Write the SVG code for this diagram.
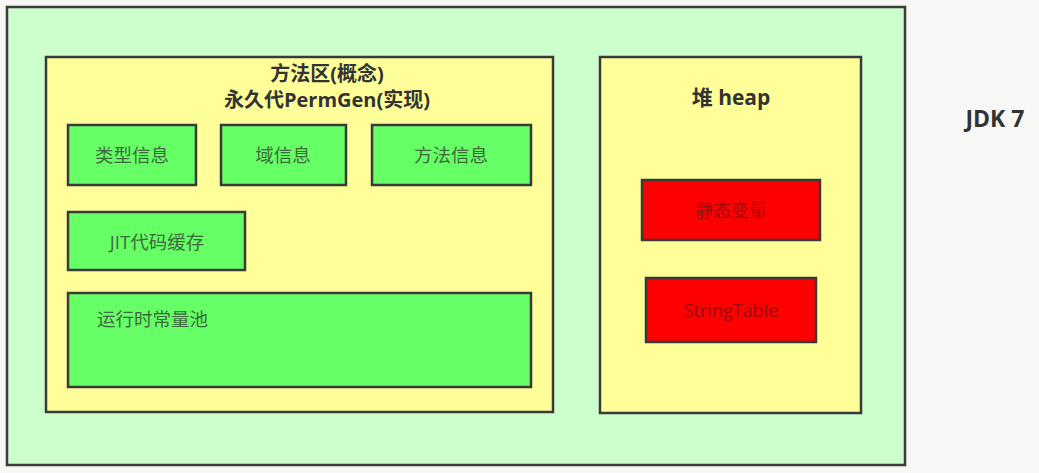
<svg xmlns="http://www.w3.org/2000/svg" width="1039" height="473" viewBox="0 0 1039 473">
<style>
.box{stroke:#3a3a3a;stroke-width:2.5}
.outer{fill:#ccffcc}
.area{fill:#ffff99}
.g{fill:#66ff66}
.r{fill:#ff0000}
.t{font-family:"Open Sans","Noto Sans CJK SC",sans-serif}
.title{font-size:21px;font-weight:bold;fill:#333;text-anchor:middle}
.gt{font-size:18.5px;fill:#3d6b3d;text-anchor:middle}
.rt{font-size:18px;fill:#9a0a0a;text-anchor:middle}
</style>
<rect width="1039" height="473" fill="#f7f7f5"/>
<g id="jvm">
<rect class="box outer" x="7" y="7" width="898" height="458"/>
</g>
<g id="method-area">
<rect class="box area" x="46" y="57" width="507" height="355"/>
<text class="t title" x="327" style="font-size:20px"><tspan x="327" y="81">方法区(概念)</tspan><tspan x="327" y="107">永久代PermGen(实现)</tspan></text>
</g>
<g id="type-info">
<rect class="box g" x="68" y="125" width="128" height="60"/>
<text class="t gt" x="132" y="162">类型信息</text>
</g>
<g id="field-info">
<rect class="box g" x="221" y="125" width="125" height="60"/>
<text class="t gt" x="283" y="162">域信息</text>
</g>
<g id="method-info">
<rect class="box g" x="372" y="125" width="159" height="60"/>
<text class="t gt" x="451" y="162">方法信息</text>
</g>
<g id="jit-cache">
<rect class="box g" x="68" y="212" width="177" height="58"/>
<text class="t gt" x="157" y="249">JIT代码缓存</text>
</g>
<g id="runtime-constant-pool">
<rect class="box g" x="68" y="293" width="463" height="94"/>
<text class="t gt" x="97" y="326" style="text-anchor:start">运行时常量池</text>
</g>
<g id="heap">
<rect class="box area" x="600" y="57" width="261" height="356"/>
<text class="t title" x="731" y="105">堆 heap</text>
</g>
<g id="static-vars">
<rect class="box r" x="642" y="180" width="178" height="60"/>
<text class="t rt" x="731" y="217">静态变量</text>
</g>
<g id="string-table">
<rect class="box r" x="646" y="278" width="170" height="64"/>
<text class="t rt" x="731" y="317">StringTable</text>
</g>
<g id="label">
<text class="t title" x="995" y="127" style="font-size:23px">JDK 7</text>
</g>
<g id="connectors"></g>
</svg>
